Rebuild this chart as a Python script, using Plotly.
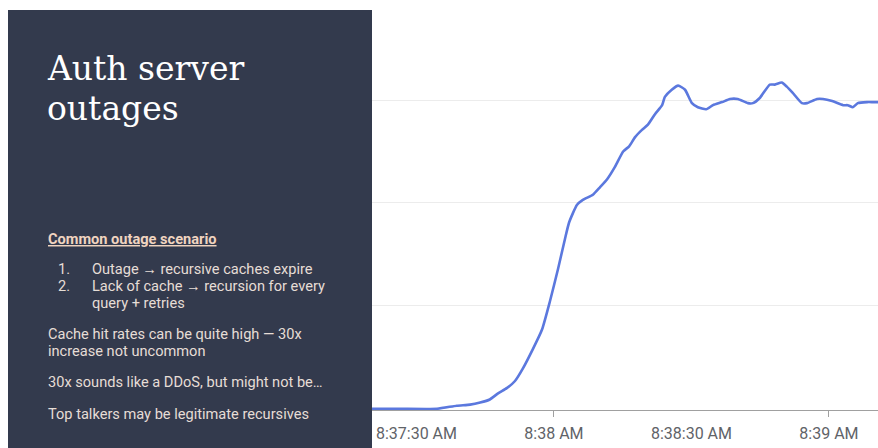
import pandas as pd
import plotly.graph_objects as go

# seconds after 08:37:00
secs = [20.3, 26.4, 34.5, 38.8, 41.7, 43.9, 46.0, 47.8, 49.7, 51.5, 53.2, 55.4, 57.4, 59.1,
        60.9, 62.4, 63.3, 65.0, 66.3, 68.5, 70.0, 71.6, 73.3, 75.1, 76.4, 77.7, 79.2, 80.5,
        82.0, 83.6, 84.2, 85.7, 87.1, 88.6, 90.1, 91.4, 93.2, 94.7, 96.7, 98.4, 100.1, 102.3,
        103.4, 104.9, 107.1, 108.2, 109.7, 110.8, 112.1, 114.1, 115.2, 117.4, 118.7, 120.7,
        123.1, 124.1, 125.2, 126.3, 128.3, 129.6, 130.7]
qps = [0.00, 0.00, 0.00, 0.03, 0.04, 0.06, 0.09, 0.15, 0.20, 0.27, 0.39, 0.58, 0.77, 1.04,
       1.36, 1.65, 1.81, 1.98, 2.03, 2.08, 2.15, 2.23, 2.35, 2.50, 2.55, 2.64, 2.71, 2.76,
       2.86, 2.95, 3.03, 3.10, 3.14, 3.10, 2.97, 2.93, 2.91, 2.95, 2.98, 3.01, 3.01, 2.97,
       2.97, 3.02, 3.15, 3.15, 3.17, 3.13, 3.07, 2.97, 2.97, 3.01, 3.01, 2.99,
       2.95, 2.95, 2.93, 2.97, 2.98, 2.98, 2.98]

tick_secs = [30, 60, 90, 120]
tick_text = ["8:37:30 AM", "8:38 AM", "8:38:30 AM", "8:39 AM"]
minute_secs = [60, 120]

title_lines = ["Auth server", "outages"]
heading = "Common outage scenario"
list_nums = ["1.", "2."]
list_lines = ["Outage \u2192 recursive caches expire",
              "Lack of cache \u2192 recursion for every",
              "query + retries"]
paras = ["Cache hit rates can be quite high \u2014 30x",
         "increase not uncommon",
         "30x sounds like a DDoS, but might not be\u2026",
         "Top talkers may be legitimate recursives"]

base = pd.Timestamp("2024-01-01 08:37:00")
def ts(s):
    return base + pd.Timedelta(seconds=s)

x = [ts(s) for s in secs]
xr = [ts(20.3), ts(130.7)]

fig = go.Figure()
fig.add_trace(go.Scatter(x=x, y=qps, mode="lines",
                         line=dict(color="#5b78de", width=2.6, shape="spline", smoothing=0.5),
                         hoverinfo="skip", showlegend=False))
# dummy trace for overlay tick axis
fig.add_trace(go.Scatter(x=[ts(60)], y=[None], xaxis="x2", showlegend=False, hoverinfo="skip"))

W, H = 878, 448
L, B = 372, 38
PW, PH = W - L, H - B

def px(xp):
    return (xp - L) / PW

def py(yp):
    return (PH - yp) / PH

fig.update_layout(
    width=W, height=H,
    margin=dict(l=L, r=0, t=0, b=B),
    paper_bgcolor="white", plot_bgcolor="white",
    xaxis=dict(type="date", range=xr, tickvals=[ts(s) for s in tick_secs], ticktext=tick_text,
               ticks="", showgrid=False, showline=True, linecolor="#a0a0a0", linewidth=1,
               zeroline=False, ticklabelstandoff=9,
               tickfont=dict(family="Roboto", size=16, color="#5f6368")),
    xaxis2=dict(type="date", range=xr, overlaying="x", anchor="y", side="bottom",
                tickvals=[ts(s) for s in minute_secs], ticks="outside", ticklen=6,
                tickcolor="#a0a0a0", showticklabels=False, showgrid=False, showline=False,
                zeroline=False),
    yaxis=dict(range=[-0.012, 3.972], tickvals=[1, 2, 3], showticklabels=False,
               gridcolor="#ececec", gridwidth=1, zeroline=False, showline=False, ticks=""),
)

fig.add_shape(type="rect", xref="paper", yref="paper",
              x0=px(8), x1=px(372), y0=py(448), y1=py(10),
              fillcolor="#333a4d", line=dict(width=0), layer="above")

ann = []
def text(t, xp, yp, size, color, family="Roboto"):
    ann.append(dict(text=t, x=px(xp), y=py(yp), xref="paper", yref="paper",
                    xanchor="left", yanchor="middle", showarrow=False,
                    font=dict(family=family, size=size, color=color)))

text(title_lines[0], 45, 68, 33, "#ffffff", "DejaVu Serif")
text(title_lines[1], 45, 108, 33, "#ffffff", "DejaVu Serif")
body = "#e6ddd6"
fs = 14.6
text("<b><u>" + heading + "</u></b>", 46, 239, fs, "#f0d4c0")
text(list_nums[0], 56, 269, fs, body)
text(list_nums[1], 56, 286, fs, body)
text(list_lines[0], 90, 269, fs, body)
text(list_lines[1], 90, 286, fs, body)
text(list_lines[2], 90, 303, fs, body)
text(paras[0], 46, 334, fs, body)
text(paras[1], 46, 351, fs, body)
text(paras[2], 46, 382, fs, body)
text(paras[3], 46, 414, fs, body)
fig.update_layout(annotations=ann)

fig.write_html("out.html")
